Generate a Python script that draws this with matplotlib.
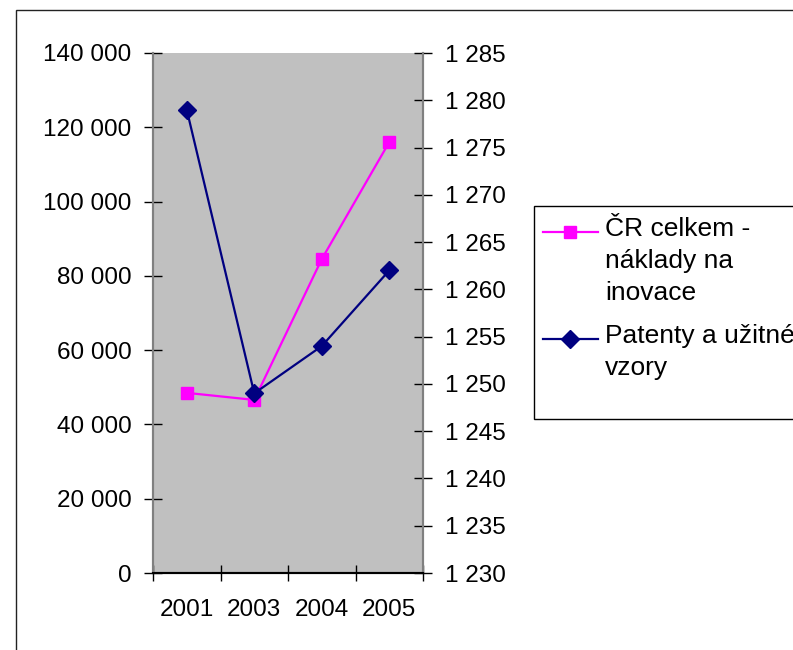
import matplotlib
matplotlib.use("Agg")
import matplotlib.pyplot as plt
from matplotlib.lines import Line2D
from matplotlib.patches import Rectangle
from matplotlib.ticker import FuncFormatter, FixedLocator
import numpy as np

plt.rcParams['font.family'] = ['Liberation Sans', 'DejaVu Sans']
plt.rcParams['font.size'] = 17.5

years = ["2001", "2003", "2004", "2005"]
naklady = [48500, 46600, 84500, 116000]      # left axis
patenty = [1279, 1249, 1254, 1262]           # right axis
legend_lines = [["ČR celkem -", "náklady na", "inovace"],
                ["Patenty a užitné", "vzory"]]

PINK = "#FF00FF"
NAVY = "#000080"
W, H = 793, 650


def fx(px):
    return px / W


def fy(py):
    return 1 - py / H


def space_fmt(v, pos):
    return f"{int(round(v)):,}".replace(",", " ")


fig = plt.figure(figsize=(W / 100, H / 100), dpi=100)

# outer chart border (cut by the picture edge, like the original)
fig.add_artist(Rectangle((fx(16), fy(700)), 1.2, (700 - 10) / H,
                         transform=fig.transFigure, fill=False,
                         edgecolor="#222222", lw=1))

ax = fig.add_axes([fx(153), fy(573), (423 - 153) / W, (573 - 53) / H])
ax.set_facecolor("#C0C0C0")
x = np.arange(len(years))

ax.plot(x, naklady, color=PINK, lw=1.6, marker="s", ms=8,
        markeredgecolor=PINK, zorder=3)
ax.set_xlim(-0.5, len(years) - 0.5)
ax.set_ylim(0, 140000)
ax.set_yticks(np.arange(0, 140001, 20000))
ax.yaxis.set_major_formatter(FuncFormatter(space_fmt))

ax2 = ax.twinx()
ax2.plot(x, patenty, color=NAVY, lw=1.6, marker="D", ms=9,
         markeredgecolor=NAVY, zorder=3)
ax2.set_ylim(1230, 1285)
ax2.set_yticks(np.arange(1230, 1286, 5))
ax2.yaxis.set_major_formatter(FuncFormatter(space_fmt))

ax.set_xticks(x)
ax.set_xticklabels(years)
ax.xaxis.set_minor_locator(FixedLocator(np.arange(-0.5, len(years), 1)))
ax.tick_params(axis="x", which="major", length=0, pad=19)
ax.tick_params(axis="x", which="minor", direction="inout", length=12,
               width=1, color="black")
ax.tick_params(axis="y", direction="inout", length=13, width=1, pad=9)
ax2.tick_params(axis="y", direction="inout", length=13, width=1, pad=9)

for a in (ax, ax2):
    a.spines["top"].set_visible(False)
    a.spines["left"].set_color("#808080")
    a.spines["right"].set_color("#808080")
    a.spines["bottom"].set_color("black")
    for s in a.spines.values():
        s.set_linewidth(1.5)

# legend box, also cut by the right edge
fig.add_artist(Rectangle((fx(534), fy(419)), 1.0, (419 - 206) / H,
                         transform=fig.transFigure, facecolor="white",
                         edgecolor="black", lw=1))

entries = [(PINK, "s", 8, 236), (NAVY, "D", 9, 343)]
for (col, mk, ms, base), lines in zip(entries, legend_lines):
    fig.add_artist(Line2D([fx(543), fx(570), fx(598)],
                          [fy(base - 4.5)] * 3, transform=fig.transFigure,
                          color=col, lw=1.6, marker=mk, ms=ms,
                          markevery=[1], markeredgecolor=col))
    for i, txt in enumerate(lines):
        fig.text(fx(605), fy(base + 32 * i), txt, va="baseline", ha="left",
                 fontsize=19)

fig.savefig("out.png", dpi=100)
